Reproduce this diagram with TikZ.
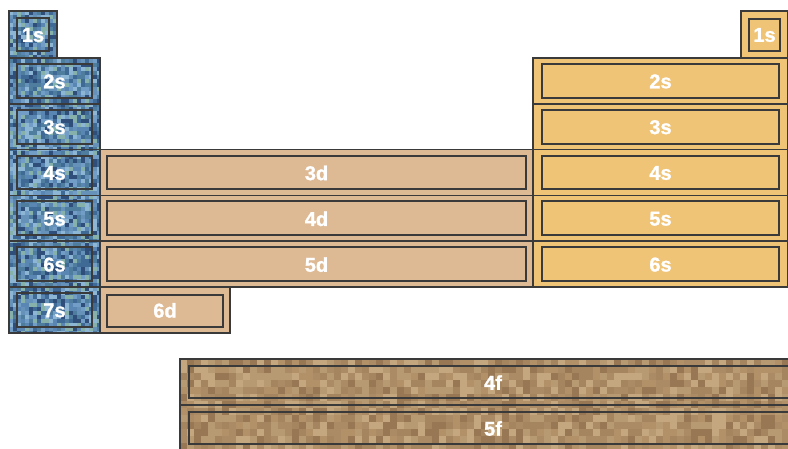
\documentclass[tikz,border=0pt]{standalone}
\usepackage{fontspec}
\setmainfont{Liberation Sans}
\newfontfamily\labfont{Liberation Sans}[BoldFeatures={FakeBold=1.2}]
\definecolor{frame}{HTML}{3A3A3A}
\definecolor{sblue}{HTML}{6690B6}
\definecolor{bl1}{HTML}{3F6A96}
\definecolor{bl2}{HTML}{5986B2}
\definecolor{bl3}{HTML}{719DC6}
\definecolor{bl4}{HTML}{8DB5D4}
\definecolor{bl5}{HTML}{4E7D9E}
\definecolor{bl6}{HTML}{86B0AA}
\definecolor{bl7}{HTML}{6692BA}
\definecolor{bl8}{HTML}{2F4E7A}
\definecolor{dtan}{HTML}{DDB994}
\definecolor{syel}{HTML}{F0C476}
\definecolor{fbr}{HTML}{B2946E}
\definecolor{fb1}{HTML}{8E6E4C}
\definecolor{fb2}{HTML}{A88862}
\definecolor{fb3}{HTML}{BA9C74}
\definecolor{fb4}{HTML}{CBAE86}
\definecolor{fb5}{HTML}{B29068}
\definecolor{fb6}{HTML}{A0805C}
\tikzset{
  outerframe/.style={draw=frame, line width=1.5pt},
  innerframe/.style={draw=frame, line width=2pt},
  lab/.style={text=white, inner sep=0pt, font=\labfont\fontsize{20}{20}\selectfont\bfseries}
}
% name, x1, y1, x2, y2, inset x, inset y top, inset y bottom, label
\newcommand\blk[9]{%
  \draw[outerframe] (#2,#3) rectangle (#4,#5);
  \draw[innerframe] ({#2+#6},{#3+#7}) rectangle ({#4-#6},{#5-#8});
  \node[lab] (#1) at ({(#2+#4)/2},{(#3+#5)/2+0.5}) {#9};
}
\begin{document}
\begin{tikzpicture}[x=1pt,y=-1pt]
\useasboundingbox (0,0) rectangle (788,448);
\clip (0,0) rectangle (788,448);
% ---------- fills ----------
\fill[sblue] (9,11) rectangle (57,58);
\fill[sblue] (9,58) rectangle (100,332.8);
\fill[dtan] (100,149.6) rectangle (533,287);
\fill[dtan] (100,287) rectangle (230,332.8);
\fill[syel] (741,11) rectangle (788,58);
\fill[syel] (533,58) rectangle (788,287);
\fill[fbr] (180,359) rectangle (806,451);
% ---------- blue mosaic ----------
\pgfmathsetseed{7}
\begin{scope}
  \clip (9,11) rectangle (57,58) (9,58) rectangle (100,332.8);
  \foreach \i in {0,...,22}{
    \foreach \j in {0,...,80}{
      \pgfmathrandominteger{\r}{1}{8}
      \fill[bl\r] ({9+4*\i},{11+4*\j}) rectangle ++(4,4);
    }
  }
\end{scope}
% ---------- brown mottling ----------
\pgfmathsetseed{11}
\begin{scope}
  \clip (180,359) rectangle (806,451);
  \foreach \i in {0,...,87}{
    \foreach \j in {0,...,13}{
      \pgfmathrandominteger{\r}{1}{6}
      \fill[fb\r, opacity=0.75] ({180+7*\i},{359+7*\j}) rectangle ++(7,7);
    }
  }
\end{scope}
% ---------- s block (left) ----------
\blk{s1}{9}{11}{57}{58}{8}{7}{7}{1s}
\blk{s2}{9}{58}{100}{103.8}{8}{6}{6}{2s}
\blk{s3}{9}{103.8}{100}{149.6}{8}{6}{6}{3s}
\blk{s4}{9}{149.6}{100}{195.4}{8}{6}{6}{4s}
\blk{s5}{9}{195.4}{100}{241.2}{8}{6}{6}{5s}
\blk{s6}{9}{241.2}{100}{287}{8}{6}{6}{6s}
\blk{s7}{9}{287}{100}{332.8}{8}{6}{6}{7s}
% ---------- d block ----------
\blk{d3}{100}{149.6}{533}{195.4}{7}{6}{6}{3d}
\blk{d4}{100}{195.4}{533}{241.2}{7}{6}{6}{4d}
\blk{d5}{100}{241.2}{533}{287}{7}{6}{6}{5d}
\blk{d6}{100}{287}{230}{332.8}{7}{8}{6}{6d}
% ---------- s block (right) ----------
\blk{r1}{741}{11}{788}{58}{8}{8}{7}{1s}
\blk{r2}{533}{58}{788}{103.8}{9}{6}{6}{2s}
\blk{r3}{533}{103.8}{788}{149.6}{9}{6}{6}{3s}
\blk{r4}{533}{149.6}{788}{195.4}{9}{6}{6}{4s}
\blk{r5}{533}{195.4}{788}{241.2}{9}{6}{6}{5s}
\blk{r6}{533}{241.2}{788}{287}{9}{6}{6}{6s}
% ---------- f block ----------
\blk{f4}{180}{359}{806}{405}{9}{7}{7}{4f}
\blk{f5}{180}{405}{806}{451}{9}{7}{7}{5f}
\end{tikzpicture}
\end{document}
